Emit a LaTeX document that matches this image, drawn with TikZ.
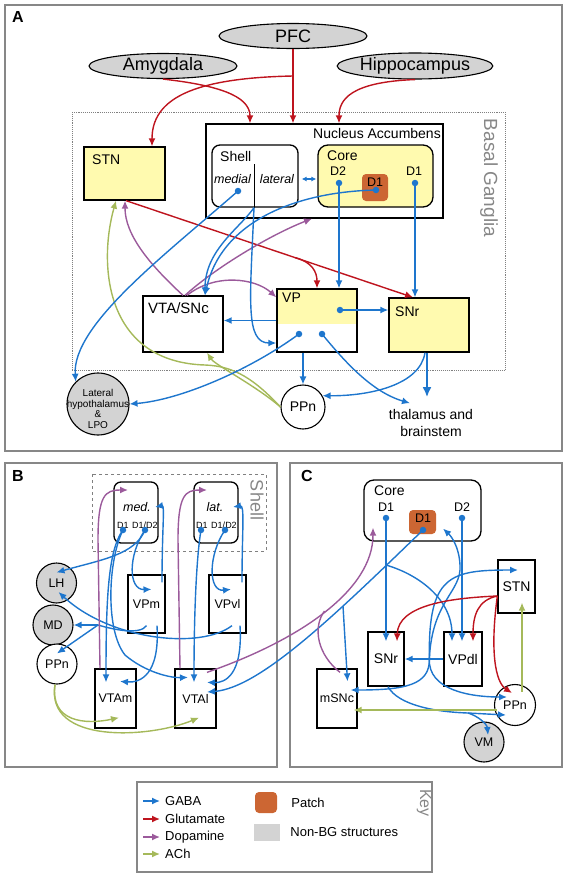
\documentclass[tikz,border=0pt]{standalone}
\usepackage{fontspec}
\setmainfont{Liberation Sans}
\usetikzlibrary{positioning, shapes.geometric, arrows.meta, calc}

\definecolor{gabablue}{RGB}{30,118,205}
\definecolor{glured}{RGB}{190,20,30}
\definecolor{dapurple}{RGB}{155,90,155}
\definecolor{achgreen}{RGB}{165,185,90}
\definecolor{bgyellow}{RGB}{255,250,175}
\definecolor{patchorange}{RGB}{204,102,51}
\definecolor{nonbg}{RGB}{211,211,211}
\definecolor{panelgray}{RGB}{135,135,135}

\begin{document}
\begin{tikzpicture}[
        x=1pt, y=-1pt,
        every node/.style={inner sep=0pt, font=\fontsize{14}{16}\selectfont},
        panel/.style={draw=panelgray, line width=1.6pt},
        box/.style={draw, line width=1.3pt, fill=white},
        ybox/.style={box, fill=bgyellow},
        rbox/.style={box, rounded corners=9pt},
        patch/.style={fill=patchorange, rounded corners=4pt},
        ext/.style={draw, ellipse, fill=nonbg, line width=1.1pt, font=\fontsize{18}{20}\selectfont},
        nucl/.style={draw, circle, line width=1.1pt, fill=white},
        gnucl/.style={nucl, fill=nonbg},
        srcdot/.style={circle, fill=gabablue, minimum size=6.5pt},
        conn/.style={line width=1.4pt, -{Latex[length=8pt,width=7pt]}},
        gaba/.style={conn, draw=gabablue},
        glu/.style={conn, draw=glured},
        da/.style={conn, draw=dapurple},
        ach/.style={conn, draw=achgreen},
        trunk/.style={line width=1.4pt, draw=gabablue},
        plbl/.style={font=\fontsize{16}{18}\selectfont\bfseries},
        sm/.style={font=\fontsize{12.5}{14}\selectfont},
        md/.style={font=\fontsize{14}{16}\selectfont},
        itl/.style={font=\fontsize{12.5}{14}\selectfont\itshape},
        dlbl/.style={font=\fontsize{9}{10}\selectfont},
        sidetag/.style={text=panelgray, rotate=-90, font=\fontsize{18}{20}\selectfont},
        keytxt/.style={font=\fontsize{13}{15}\selectfont}
    ]
    \useasboundingbox (0,0) rectangle (567,876);

    % Panel A
    \draw[panel] (5,5) rectangle (562,451);
    \node[plbl] (la) at (18,17) {A};

    % Inputs
    \node[ext, minimum width=148pt, minimum height=25pt] (pfc) at (293,36) {PFC};
    \node[ext, minimum width=148pt, minimum height=25pt] (amy) at (163,66) {Amygdala};
    \node[ext, minimum width=154pt, minimum height=26pt] (hip) at (415,66) {Hippocampus};

    % Basal ganglia frame
    \draw[densely dotted, gray, line width=0.9pt] (72,112) rectangle (505,370);
    \node[sidetag, font=\fontsize{19}{21}\selectfont] (bgl) at (489,178) {Basal Ganglia};

    % Nucleus accumbens
    \node[box, minimum width=237pt, minimum height=94pt] (nac) at (324.5,171) {};
    \node[anchor=east] (nactxt) at (441,133) {Nucleus Accumbens};
    \node[rbox, rounded corners=8pt, minimum width=86pt, minimum height=62pt] (shell) at (255,176) {};
    \draw[line width=1pt] ([xshift=-1pt,yshift=-20pt]shell.north) -- ([xshift=-1pt]shell.south);
    \node[anchor=west] (shelltxt) at (220,156) {Shell};
    \node[itl] (medtxt) at (232.5,179) {medial};
    \node[itl] (lattxt) at (277,179) {lateral};
    \node[rbox, fill=bgyellow, rounded corners=10pt, minimum width=115pt, minimum height=62pt] (core) at (375.5,176) {};
    \node[anchor=west] (coretxt) at (327,156) {Core};
    \node[sm] (d2txt) at (338,171) {D2};
    \node[sm] (d1txt) at (414,171) {D1};
    \node[patch, minimum width=26pt, minimum height=27pt] (patch) at (375,187.5) {};
    \node[sm] (pd1txt) at (375,182) {D1};
    \node[srcdot] (meddot) at (238,191) {};
    \node[srcdot] (d2dot) at (339,183) {};
    \node[srcdot] (d1dot) at (415,183) {};
    \node[srcdot] (pdot) at (376,190) {};

    % Other nuclei
    \node[ybox, minimum width=81pt, minimum height=53pt] (stn) at (124.5,173.5) {};
    \node[anchor=west] (stntxt) at (92,160) {STN};
    \node[box, minimum width=80pt, minimum height=56pt] (vta) at (183,324) {};
    \node[anchor=west, font=\fontsize{15}{17}\selectfont] (vtatxt) at (148,308) {VTA/SNc};
    \node[box, minimum width=80pt, minimum height=63pt,
        path picture={\fill[bgyellow] (path picture bounding box.north west) rectangle ([yshift=-35pt]path picture bounding box.north east);}] (vp) at (317,320.5) {};
    \node[anchor=west] (vptxt) at (282,298) {VP};
    \node[ybox, minimum width=80pt, minimum height=54pt] (snr) at (429,325) {};
    \node[anchor=west] (snrtxt) at (395,312) {SNr};
    \node[srcdot] (vpdot) at (340,310) {};
    \node[srcdot] (vpdota) at (299,334) {};
    \node[srcdot] (vpdotb) at (322,334) {};

    % Targets
    \node[gnucl, minimum size=62pt] (lha) at (98,404) {};
    \node[align=center, font=\fontsize{10}{10.7}\selectfont] (lhatxt) at (98,409) {Lateral\\hypothalamus\\\&\\LPO};
    \node[nucl, minimum size=44pt] (ppna) at (303,407) {PPn};
    \node[align=center, font=\fontsize{14}{17}\selectfont] (thal) at (431,423) {thalamus and\\brainstem};

    % Glutamate
    \coordinate (pfcsplit) at (293,76);
    \draw[glu] (pfc.south) -- (pfc.south |- nac.north);
    \draw[glu] (pfcsplit) .. controls (190,78) and (152,100) .. ([xshift=27.5pt]stn.north);
    \draw[glu] (amy.south) .. controls (215,85) and (250,95) .. ([xshift=-74.5pt]nac.north);
    \draw[glu] (hip.south) .. controls (350,82) and (339,100) .. ([xshift=14.5pt]nac.north);
    \coordinate (stnout) at ([xshift=1.5pt]stn.south);
    \coordinate (snrin) at ([xshift=-16pt]snr.north);
    \draw[glu] (stnout) -- (snrin);
    \coordinate (glusplit) at ($(stnout)!0.59!(snrin)$);
    \draw[glu] (glusplit) .. controls (312,262) and (317,272) .. (vp.north);

    % Dopamine
    \draw[da] (vta.north) .. controls (150,265) and (125,235) .. ([xshift=0.5pt]stn.south);
    \draw[da] ([xshift=2pt]vta.north) .. controls (215,268) and (270,235) .. ([xshift=-12.5pt]nac.south);
    \draw[da] ([xshift=4pt]vta.north) .. controls (215,273) and (255,278) .. ([yshift=-9pt]vp.north west);

    % ACh
    \draw[ach] (ppna.west) .. controls (255,385) and (215,365) .. ([xshift=24pt]vta.south);
    \draw[ach] (ppna.west) .. controls (255,380) and (235,366) .. (205,365) .. controls (105,362) and (98,265) .. ([xshift=-8.5pt]stn.south);

    % GABA
    \draw[gaba, {Latex[length=5pt,width=5pt]}-{Latex[length=5pt,width=5pt]}] ([xshift=3pt,yshift=-3pt]shell.east) -- ([xshift=-1pt,yshift=-3pt]core.west);
    \draw[gaba] (meddot.center) .. controls (165,255) and (72,325) .. (lha.north west);
    \draw[gaba] ([xshift=-1pt]shell.south) .. controls (240,228) and (205,250) .. ([xshift=22pt]vta.north);
    \draw[gaba] ([xshift=-1pt]shell.south) .. controls (250,300) and (245,343) .. ([yshift=-22.5pt]vp.west);
    \draw[gaba] (pdot.center) .. controls (290,192) and (220,225) .. ([xshift=22pt]vta.north);
    \draw[gaba] (d2dot.center) -- (d2dot.center |- vp.north);
    \draw[gaba] (d1dot.center) -- (d1dot.center |- snr.north);
    \draw[gaba] (vpdot.center) -- (vpdot.center -| snr.west);
    \draw[gaba] (vp.west) -- (vp.west -| vta.east);
    \draw[gaba] (vpdota.center) .. controls (250,370) and (180,400) .. (lha.east);
    \draw[gaba] (vpdotb.center) .. controls (345,362) and (372,392) .. ([xshift=-21pt,yshift=6pt]thal.north);
    \draw[gaba] ([xshift=-14pt]vp.south) -- (ppna.north);
    \draw[gaba, line width=2.2pt, -{Latex[length=10pt,width=9pt]}] ([xshift=-2pt]snr.south) -- ([xshift=-4pt,yshift=12pt]thal.north);
    \draw[gaba] ([xshift=-4pt]snr.south) .. controls (420,385) and (370,396) .. (ppna.30);

    % Panel B
    \draw[panel] (5,463) rectangle (277,767);
    \node[plbl] (lb) at (18,476) {B};
    \draw[dashed, gray, line width=0.9pt] (92,474) rectangle (266,551);
    \node[sidetag] (shelltag) at (257,500) {Shell};

    % Shell territories
    \node[rbox, rounded corners=7pt, minimum width=44pt, minimum height=61pt] (med) at (136,512.5) {};
    \node[itl] (medlbl) at (137,507) {med.};
    \node[dlbl] (medd1) at (123,525) {D1};
    \node[dlbl] (medd12) at (145,525) {D1/D2};
    \node[rbox, rounded corners=7pt, minimum width=44pt, minimum height=61pt] (lat) at (216,512.5) {};
    \node[itl] (latlbl) at (215,507) {lat.};
    \node[dlbl] (latd1) at (202,525) {D1};
    \node[dlbl] (latd12) at (224,525) {D1/D2};
    \node[srcdot] (mdota) at (123,530) {};
    \node[srcdot] (mdotb) at (145,530) {};
    \node[srcdot] (ldota) at (201,530) {};
    \node[srcdot] (ldotb) at (225,530) {};

    % Targets of the shell
    \node[gnucl, minimum size=40pt, sm] (lhb) at (56.5,583) {LH};
    \node[gnucl, minimum size=40pt, sm] (mdb) at (53,625) {MD};
    \node[nucl, minimum size=40pt, sm] (ppnb) at (57,664) {PPn};
    \node[box, sm, minimum width=37pt, minimum height=58pt] (vpm) at (146.5,604) {VPm};
    \node[box, sm, minimum width=37pt, minimum height=58pt] (vpvl) at (227.5,604) {VPvl};
    \node[box, sm, minimum width=41pt, minimum height=59pt] (vtam) at (115.5,698.5) {VTAm};
    \node[box, sm, minimum width=41pt, minimum height=59pt] (vtal) at (195.5,698.5) {VTAl};

    % GABA
    \draw[gaba] (mdota.center) .. controls (108,550) and (106,600) .. ([xshift=-9.5pt,yshift=-14pt]vtam.north);
    \draw[gaba] (mdota.center) .. controls (108,560) and (105,630) .. (125,655) .. controls (145,672) and (170,678) .. ([xshift=-7.5pt,yshift=-9pt]vtal.north);
    \draw[gaba] (mdotb.center) .. controls (135,555) and (100,560) .. ([yshift=-10pt]lhb.north);
    \draw[gaba] (mdotb.center) .. controls (128,555) and (128,590) .. ([xshift=5pt,yshift=-15pt]vpm.north);
    \draw[gaba] ([xshift=15.5pt,yshift=-8pt]vpm.north) .. controls (162,530) and (165,505) .. ([xshift=19pt,yshift=5.5pt]med.center);
    \draw[gaba] (ldota.center) .. controls (196,560) and (194,620) .. ([xshift=-1.5pt,yshift=-14pt]vtal.north);
    \draw[gaba] (ldotb.center) .. controls (208,555) and (208,592) .. ([xshift=3.5pt,yshift=-15pt]vpvl.north);
    \draw[gaba] ([xshift=14.5pt,yshift=-8pt]vpvl.north) .. controls (242,530) and (245,505) .. ([xshift=17pt,yshift=5.5pt]lat.center);
    \coordinate (bjunc) at (98,625);
    \draw[trunk] ([yshift=8pt]vpm.south) .. controls (140,635) and (115,630) .. (bjunc);
    \draw[gaba] (bjunc) -- (mdb.east);
    \draw[gaba] (bjunc) -- ([yshift=-10pt]ppnb.north);
    \draw[gaba] ([xshift=4.5pt,yshift=8pt]vpvl.south) .. controls (200,650) and (110,640) .. ([xshift=2pt,yshift=-9pt]lhb.center);
    \draw[gaba] ([xshift=10.5pt,yshift=8pt]vpm.south) .. controls (160,675) and (140,683) .. ([xshift=4.5pt,yshift=-13pt]vtam.north);
    \draw[gaba] ([xshift=12.5pt,yshift=8pt]vpvl.south) .. controls (243,675) and (225,683) .. ([xshift=11.5pt,yshift=-14pt]vtal.north);

    % Dopamine
    \draw[da] ([xshift=-15.5pt]vtam.north) -- (98,540) .. controls (98,495) and (105,490) .. ([xshift=-8pt,yshift=22.5pt]med.center);
    \draw[da] ([xshift=-15.5pt]vtal.north) -- (178,540) .. controls (178,495) and (185,490) .. ([xshift=-9pt,yshift=22.5pt]lat.center);

    % ACh
    \draw[ach] ([xshift=-2pt]ppnb.south) .. controls (50,722) and (85,725) .. ([xshift=3.5pt,yshift=11pt]vtam.south);
    \draw[ach] ([xshift=-2pt]ppnb.south) .. controls (45,745) and (150,738) .. ([xshift=3.5pt,yshift=11pt]vtal.south);

    % Panel C
    \draw[panel] (290,463) rectangle (562,767);
    \node[plbl] (lc) at (307,476) {C};

    % Core
    \node[rbox, rounded corners=10pt, minimum width=117pt, minimum height=61pt] (corec) at (422.5,510.5) {};
    \node[anchor=west] (corectxt) at (374,491) {Core};
    \node[sm] (cd1txt) at (386,507) {D1};
    \node[sm] (cd2txt) at (462,507) {D2};
    \node[patch, minimum width=27pt, minimum height=24pt] (patchc) at (422.5,522) {};
    \node[sm] (cpd1txt) at (423,518) {D1};
    \node[srcdot] (cd1) at (386,518) {};
    \node[srcdot] (cd2) at (462,518) {};
    \node[srcdot] (cpd) at (423,530) {};

    % Targets of the core
    \node[box, md, minimum width=37pt, minimum height=53pt] (stnc) at (516.5,586.5) {STN};
    \node[box, md, minimum width=36pt, minimum height=54pt] (snrc) at (386,659) {SNr};
    \node[box, md, minimum width=38pt, minimum height=54pt] (vpdl) at (463,659) {VPdl};
    \node[box, sm, minimum width=40pt, minimum height=59pt] (msnc) at (337,698.5) {mSNc};
    \node[nucl, sm, minimum size=41pt] (ppnc) at (515,705) {PPn};
    \node[gnucl, sm, minimum size=40pt] (vm) at (484,742) {VM};

    % GABA
    \draw[gaba] (cd1.center) -- ([yshift=-10pt]snrc.north);
    \coordinate (cd1split) at (386,565);
    \draw[gaba] (cd1split) .. controls (420,575) and (452,600) .. ([xshift=-11pt,yshift=-10pt]vpdl.north);
    \draw[gaba] (cd2.center) -- ([xshift=-1pt,yshift=-10pt]vpdl.north);
    \draw[gaba] (cpd.center) .. controls (335,615) and (260,688) .. ([xshift=11.5pt,yshift=6.5pt]vtal.center);
    \coordinate (cpsplit) at (343,606);
    \draw[gaba] (cpsplit) -- ([xshift=10.5pt,yshift=-13pt]msnc.north);
    \draw[gaba] (vpdl.west) -- (snrc.east);
    \coordinate (cj) at ([xshift=-14pt]vpdl.west);
    \draw[gaba] (cj) .. controls (430,685) and (405,690) .. ([xshift=-7pt,yshift=8.5pt]msnc.east);
    \draw[gaba] (cj) .. controls (428,690) and (470,697) .. ([xshift=-8pt,yshift=8pt]ppnc.center);
    \draw[gaba] (cj) .. controls (428,575) and (450,570) .. ([xshift=1.5pt,yshift=16.5pt]stnc.center);
    \draw[gaba] (cj) .. controls (432,600) and (462,592) .. (460,565) .. controls (459,545) and (450,535) .. ([xshift=20.5pt,yshift=13pt]corec.south);
    \coordinate (cvj) at (468,713);
    \draw[trunk] ([xshift=2pt]snrc.south) .. controls (398,705) and (435,712) .. (cvj);
    \draw[gaba] (cvj) -- ([xshift=-9pt,yshift=-10pt]ppnc.center);
    \draw[gaba] (cvj) .. controls (478,716) and (487,724) .. ([xshift=4pt,yshift=7pt]vm.center);

    % Glutamate
    \coordinate (stnoutc) at ([yshift=-9.5pt]stnc.west);
    \draw[glu] (stnoutc) .. controls (450,598) and (398,605) .. ([xshift=11pt,yshift=-10pt]snrc.north);
    \draw[glu] (stnoutc) .. controls (478,600) and (473,615) .. ([xshift=10pt,yshift=-10pt]vpdl.north);
    \draw[glu] (stnoutc) .. controls (490,650) and (495,682) .. ([xshift=-3pt,yshift=12pt]ppnc.center);

    % Dopamine
    \draw[da] ([xshift=11.5pt,yshift=-4pt]vtal.north) .. controls (300,640) and (373,590) .. ([xshift=-49.5pt,yshift=14pt]corec.south);
    \coordinate (damerge) at (324.5,611);
    \draw[da, -] ([xshift=3pt,yshift=-4pt]msnc.north) .. controls (318,655) and (312,628) .. (damerge);

    % ACh
    \draw[ach] ([xshift=7pt,yshift=-8pt]ppnc.north) -- ([xshift=5.5pt,yshift=11pt]stnc.south);
    \draw[ach] ([xshift=3pt,yshift=-5pt]ppnc.west) -- ([xshift=-4pt,yshift=-11.5pt]msnc.east);

    % Key
    \draw[panel] (137,782) rectangle (432,872);
    \node[sidetag, font=\fontsize{16}{18}\selectfont] (keytag) at (424,803) {Key};
    \coordinate (kga) at (143,801);
    \coordinate (kgl) at (143,819);
    \coordinate (kda) at (143,837);
    \coordinate (kac) at (143,854);
    \node[keytxt, right=22pt of kga] (kgatxt) {GABA};
    \node[keytxt, right=22pt of kgl] (kgltxt) {Glutamate};
    \node[keytxt, right=22pt of kda] (kdatxt) {Dopamine};
    \node[keytxt, right=22pt of kac] (kactxt) {ACh};
    \draw[gaba] (kga) -- ([xshift=-5pt]kgatxt.west);
    \draw[glu] (kgl) -- ([xshift=-5pt]kgltxt.west);
    \draw[da] (kda) -- ([xshift=-5pt]kdatxt.west);
    \draw[ach] (kac) -- ([xshift=-5pt]kactxt.west);
    \node[patch, minimum width=22pt, minimum height=21pt] (kpatch) at (266,802.5) {};
    \node[keytxt, right=14pt of kpatch] (kpatchtxt) {Patch};
    \node[fill=nonbg, minimum width=26pt, minimum height=17pt] (knonbg) at (267,832.5) {};
    \node[keytxt, right=10pt of knonbg] (knonbgtxt) {Non-BG structures};

\end{tikzpicture}
\end{document}
